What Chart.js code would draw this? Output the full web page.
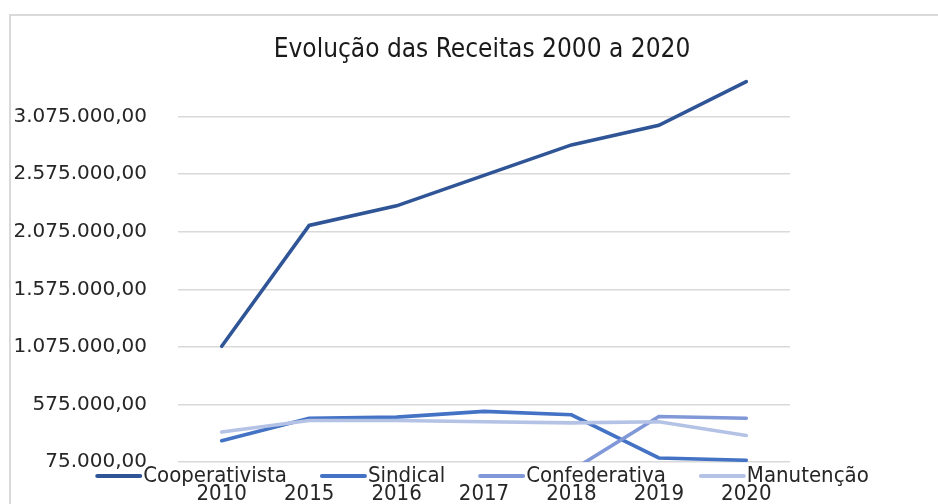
<!DOCTYPE html>
<html lang="pt-BR">
<head>
  <meta charset="UTF-8" />
  <title>Evolução das Receitas</title>
  <style>
    html, body {
      margin: 0;
      background: #fff;
      overflow: hidden;
      width: 938px;
      height: 504px;
    }

    .frame {
      position: absolute;
      left: 9px;
      top: 14px;
      width: 927px;
      height: 490px;
      border-left: 2px solid #d9d9d9;
      border-top: 2px solid #d9d9d9;
      overflow: hidden;
    }

    canvas {
      display: block;
    }
  </style>
</head>
<body>
  <div class="frame">
    <canvas id="receitas" width="927" height="489"></canvas>
  </div>

  <script src="https://cdn.jsdelivr.net/npm/chart.js"></script>
  <script>
    const years = ['2010', '2015', '2016', '2017', '2018', '2019', '2020'];
    const cooperativista = [1080000, 2130000, 2300000, 2565000, 2830000, 3000000, 3380000];
    const sindical = [260000, 455000, 465000, 515000, 485000, 110000, 90000];
    const confederativa = [0, 0, 0, 0, 0, 470000, 455000];
    const manutencao = [335000, 435000, 435000, 425000, 415000, 425000, 305000];
    const yTicks = [75000, 575000, 1075000, 1575000, 2075000, 2575000, 3075000];

    const chartTitle = 'Evolução das Receitas 2000 a 2020';
    const labelFont = '"DejaVu Sans Condensed", "DejaVu Sans", sans-serif';
    const centerX = 471; // the original frame is wider than the window

    // 1234567 -> "1.234.567,00"
    function brl(v) {
      return Math.round(v).toString().replace(/\B(?=(\d{3})+(?!\d))/g, '.') + ',00';
    }

    // Title and legend drawn by hand: centred on the full frame, and the
    // legend overlaps the year labels like the original
    const titleAndLegend = {
      id: 'titleAndLegend',
      afterDraw(chart) {
        const ctx = chart.ctx;
        ctx.save();
        ctx.fillStyle = '#1a1a1a';
        ctx.textAlign = 'center';
        ctx.textBaseline = 'middle';
        ctx.font = '26px ' + labelFont;
        ctx.fillText(chartTitle, centerX, 34);

        const items = chart.data.datasets;
        const swatch = 47, gap = 33;
        ctx.font = '22px ' + labelFont;
        ctx.textAlign = 'left';
        const widths = items.map(d => swatch + 1 + ctx.measureText(d.label).width);
        const total = widths.reduce((a, b) => a + b, 0) + gap * (items.length - 1);
        let x = centerX - total / 2;
        const y = 460;
        items.forEach((d, i) => {
          ctx.strokeStyle = d.borderColor;
          ctx.lineWidth = 4;
          ctx.lineCap = 'round';
          ctx.beginPath();
          ctx.moveTo(x + 2, y);
          ctx.lineTo(x + swatch - 2, y);
          ctx.stroke();
          ctx.fillStyle = '#262626';
          ctx.fillText(d.label, x + swatch + 1, y);
          x += widths[i] + gap;
        });
        ctx.restore();
      }
    };

    const ctx = document.getElementById('receitas').getContext('2d');
    new Chart(ctx, {
      type: 'line',
      data: {
        labels: years,
        datasets: [
          { label: 'Cooperativista', data: cooperativista, borderColor: '#2f5597', order: 4 },
          { label: 'Sindical', data: sindical, borderColor: '#4472c4', order: 3 },
          { label: 'Confederativa', data: confederativa, borderColor: '#8098d8', order: 2 },
          { label: 'Manutenção', data: manutencao, borderColor: '#b4c2e6', order: 1 }
        ]
      },
      options: {
        responsive: false,
        animation: false,
        elements: {
          line: { borderWidth: 3.6, tension: 0, borderCapStyle: 'round' },
          point: { radius: 0 }
        },
        layout: { padding: { left: 0, right: 148, top: 57.5, bottom: 0 } },
        plugins: {
          legend: { display: false },
          tooltip: { enabled: false },
          title: { display: false }
        },
        scales: {
          x: {
            offset: true,
            grid: { display: false },
            border: { display: false },
            ticks: {
              color: '#262626',
              font: { family: labelFont, size: 22 },
              padding: 11,
              autoSkip: false,
              maxRotation: 0
            },
            afterFit(scale) { scale.height = 40; }
          },
          y: {
            min: 75000,
            max: 3450000,
            afterBuildTicks(scale) {
              scale.ticks = yTicks.map(v => ({ value: v }));
            },
            grid: { color: '#d9d9d9', lineWidth: 1.5, drawTicks: false },
            border: { display: false },
            ticks: {
              color: '#262626',
              font: { family: '"DejaVu Sans", sans-serif', size: 20 },
              padding: 31,
              callback: v => brl(v)
            },
            afterFit(scale) { scale.width = 167; }
          }
        }
      },
      plugins: [titleAndLegend]
    });
  </script>
</body>
</html>
